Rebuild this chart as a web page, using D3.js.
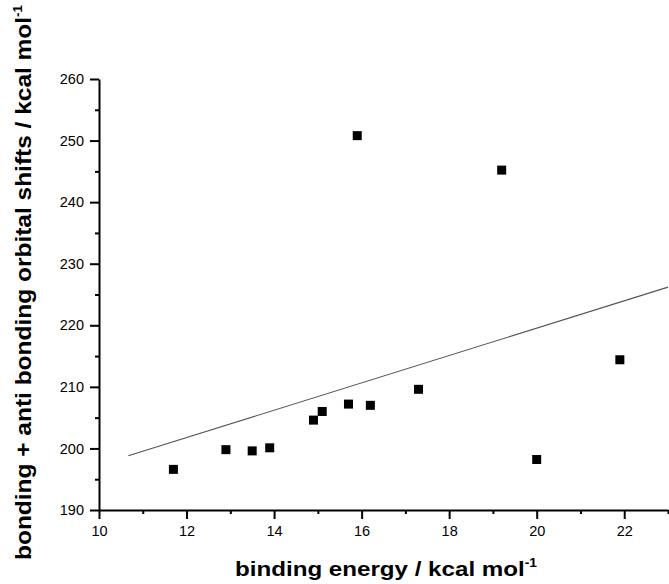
<!DOCTYPE html>
<html>
<head>
<meta charset="utf-8">
<script src="https://cdn.jsdelivr.net/npm/d3@7"></script>
<style>
  body { margin: 0; background: #fff; }
  text { font-family: "Liberation Sans", Arial, sans-serif; }
</style>
</head>
<body>
<div id="chart"></div>
<script>
// scatter points
const bindingEnergy = [11.7, 12.9, 13.5, 13.9, 14.9, 15.1, 15.7, 15.9, 16.2, 17.3, 19.2, 20.0, 21.9];
const orbitalShift  = [196.6, 199.8, 199.6, 200.1, 204.6, 206.0, 207.2, 250.8, 207.0, 209.6, 245.2, 198.2, 214.4];

// fitted line end points
const fitX = [10.67, 23.0];
const fitY = [198.8, 226.2];

const xTicks = [10, 12, 14, 16, 18, 20, 22];
const yTicks = [190, 200, 210, 220, 230, 240, 250, 260];

const W = 669, H = 584;
const margin = { top: 79, right: 1, bottom: 74, left: 99 };

const svg = d3.select("#chart").append("svg")
    .attr("width", W)
    .attr("height", H);

const x = d3.scaleLinear().domain([10, 23]).range([margin.left, W - margin.right]);
const y = d3.scaleLinear().domain([190, 260]).range([H - margin.bottom, margin.top]);

// minor ticks first, then major axes over them
svg.append("g")
    .attr("transform", `translate(0,${H - margin.bottom})`)
    .call(d3.axisBottom(x).tickValues(d3.range(11, 24, 2)).tickSize(4).tickFormat(""))
    .call(g => g.select(".domain").remove())
    .selectAll("line").attr("stroke-width", 2);

svg.append("g")
    .attr("transform", `translate(${margin.left},0)`)
    .call(d3.axisLeft(y).tickValues(d3.range(195, 260, 10)).tickSize(4).tickFormat(""))
    .call(g => g.select(".domain").remove())
    .selectAll("line").attr("stroke-width", 2);

const xAxis = svg.append("g")
    .attr("transform", `translate(0,${H - margin.bottom})`)
    .call(d3.axisBottom(x).tickValues(xTicks).tickSize(9).tickSizeOuter(0).tickPadding(7));

const yAxis = svg.append("g")
    .attr("transform", `translate(${margin.left},0)`)
    .call(d3.axisLeft(y).tickValues(yTicks).tickSize(9).tickSizeOuter(0).tickPadding(6));

[xAxis, yAxis].forEach(g => {
    g.select(".domain").attr("stroke-width", 2);
    g.selectAll(".tick line").attr("stroke-width", 2);
    g.selectAll(".tick text")
        .style("font-family", "'Liberation Sans', Arial, sans-serif")
        .style("font-size", "14.5px")
        .attr("fill", "#000");
});

// linear fit
svg.append("path")
    .datum(fitX.map((d, i) => [d, fitY[i]]))
    .attr("fill", "none")
    .attr("stroke", "#555")
    .attr("stroke-width", 1.1)
    .attr("d", d3.line().x(d => x(d[0])).y(d => y(d[1])));

// squares
svg.selectAll(".pt")
    .data(bindingEnergy.map((d, i) => [d, orbitalShift[i]]))
    .enter()
    .append("rect")
    .attr("class", "pt")
    .attr("x", d => x(d[0]) - 4.5)
    .attr("y", d => y(d[1]) - 4.5)
    .attr("width", 9)
    .attr("height", 9)
    .attr("fill", "#000");

// axis titles (stretched to the reference's width)
const xt = svg.append("text")
    .attr("x", 235)
    .attr("y", 576)
    .attr("textLength", 302)
    .attr("lengthAdjust", "spacingAndGlyphs")
    .style("font-size", "21px")
    .style("font-weight", "bold")
    .text("binding energy / kcal mol");
xt.append("tspan")
    .attr("dy", -9)
    .style("font-size", "12px")
    .text("-1");

const yt = svg.append("text")
    .attr("transform", "translate(31,560) rotate(-90)")
    .attr("textLength", 555)
    .attr("lengthAdjust", "spacingAndGlyphs")
    .style("font-size", "22px")
    .style("font-weight", "bold")
    .text("bonding + anti bonding orbital shifts / kcal mol");
yt.append("tspan")
    .attr("dy", -9)
    .style("font-size", "12px")
    .text("-1");
</script>
</body>
</html>
